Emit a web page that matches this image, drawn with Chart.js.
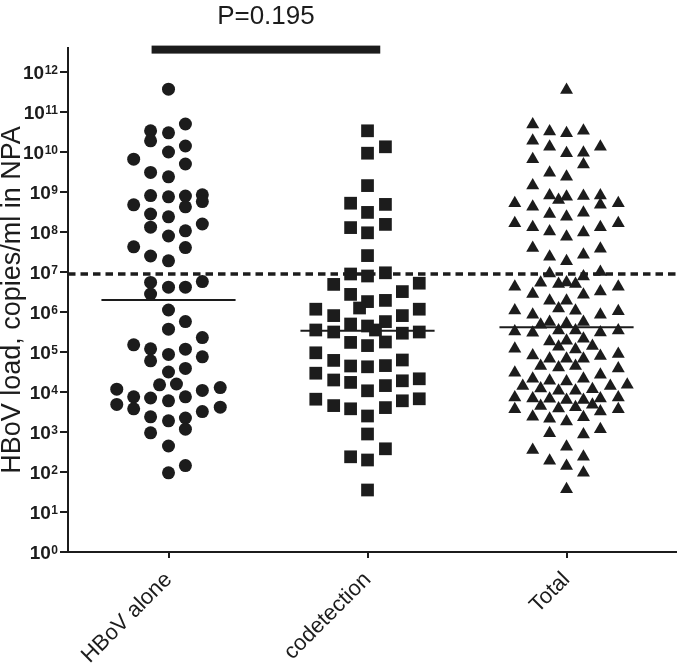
<!DOCTYPE html>
<html>
<head>
<meta charset="utf-8">
<script src="https://cdn.jsdelivr.net/npm/chart.js@4.4.1/dist/chart.umd.min.js"></script>
<style>
  html, body { margin: 0; padding: 0; background: #fff; }
</style>
</head>
<body>
<canvas id="chart" width="685" height="672"></canvas>
<script>
// x axis groups
const groups = ['HBoV alone', 'codetection', 'Total'];

// log10(copies/ml) per sample, with the sideways
// offset of each marker inside its column (in group units)
const hbovLog = [11.57, 10.70, 10.53, 10.28, 10.48, 10.15, 10.00, 9.82, 9.70, 9.49, 9.38,
  8.91, 8.88, 8.90, 8.93, 8.76, 8.63, 8.68, 8.45, 8.38, 8.12, 8.20, 8.03, 7.90, 7.63, 7.61,
  7.40, 7.28, 6.74, 6.62, 6.62, 6.76, 6.45, 6.05, 5.76, 5.57, 5.36, 5.18, 5.08, 4.78, 4.94,
  5.07, 4.88, 4.50, 4.59, 4.18, 4.20, 4.07, 3.69, 3.88, 3.58, 3.85, 3.78, 3.88, 4.04, 4.11,
  3.51, 3.62, 3.38, 3.28, 3.35, 3.07, 2.98, 2.65, 2.16, 1.98];
const hbovOff = [0, 0.085, -0.09, -0.09, 0, 0.085, 0, -0.175, 0.085, -0.09, 0,
  -0.09, 0, 0.085, 0.17, 0.17, 0.085, -0.175, -0.09, 0, -0.09, 0.17, 0.085, 0, -0.175, 0.085,
  -0.09, 0, -0.09, 0, 0.085, 0.17, -0.09, 0, 0.085, 0, 0.17, -0.175, -0.09, -0.09, 0,
  0.085, 0.17, 0, 0.085, -0.045, 0.04, -0.26, -0.26, -0.175, -0.175, -0.09, 0, 0.085, 0.17, 0.26,
  0.17, 0.26, -0.09, 0, 0.085, 0.085, -0.09, 0, 0.085, 0];

const codetLog = [10.53, 9.97, 10.13, 9.16, 8.72, 8.69, 8.49, 8.11, 8.19, 7.98, 7.41,
  6.95, 6.90, 6.98, 6.69, 6.72, 6.44, 6.51, 6.26, 6.29, 6.10, 6.07, 5.91, 5.91, 6.07,
  5.70, 5.65, 5.76, 5.55, 5.55, 5.50, 5.47, 5.50, 5.24, 5.16, 5.25, 4.98, 4.79, 4.65, 4.63,
  4.66, 4.80, 4.47, 4.30, 4.24, 4.03, 4.16, 4.28, 4.33, 3.82, 3.66, 3.58, 3.40, 3.61, 3.78,
  3.83, 2.95, 2.38, 2.30, 2.58, 1.55];
const codetOff = [0, 0, 0.09, 0, -0.085, 0.09, 0, -0.085, 0.09, 0, 0,
  -0.085, 0, 0.09, -0.17, 0.26, -0.085, 0.175, 0, 0.09, -0.04, -0.26, -0.17, 0.175, 0.26,
  -0.085, 0, 0.09, 0.04, -0.26, -0.17, 0.175, 0.26, -0.085, 0, 0.09, -0.26, -0.17, -0.085, 0,
  0.09, 0.175, -0.26, -0.17, -0.085, 0, 0.09, 0.175, 0.26, -0.26, -0.17, -0.085, 0, 0.09, 0.175,
  0.26, 0, -0.085, 0, 0.09, 0];

const totalLog = [11.55, 10.69, 10.51, 10.47, 10.53, 10.28, 10.13, 9.97, 9.98, 10.13, 9.69,
  9.82, 9.48, 9.38, 9.16, 8.91, 8.80, 8.88, 8.90, 8.91, 8.68, 8.72, 8.72, 8.63, 8.45, 8.38,
  8.48, 8.22, 8.12, 8.01, 7.88, 7.99, 8.12, 8.22, 7.60, 7.38, 7.27, 7.43, 7.58, 6.96, 6.89,
  7.00, 6.63, 6.73, 6.70, 6.74, 6.70, 6.45, 6.43, 6.51, 6.63, 6.28, 6.28, 6.04, 5.93, 6.09,
  6.03, 5.93, 6.02, 5.68, 5.75, 5.71, 5.75, 5.51, 5.48, 5.54, 5.54, 5.49, 5.54, 5.26, 5.28,
  5.33, 5.08, 5.13, 5.06, 5.15, 4.91, 4.83, 4.83, 4.83, 4.90, 4.95, 4.65, 4.61, 4.65, 4.59,
  4.48, 4.33, 4.28, 4.26, 4.33, 4.43, 4.15, 4.09, 4.03, 4.03, 4.07, 4.15, 4.18, 3.86, 3.84,
  3.83, 3.80, 3.80, 3.84, 3.86, 3.57, 3.65, 3.59, 3.62, 3.68, 3.51, 3.57, 3.38, 3.33, 3.26,
  3.37, 2.97, 2.94, 3.07, 2.55, 2.63, 2.28, 2.38, 2.15, 1.98, 1.57];
const totalOff = [0, -0.17, -0.085, 0, 0.085, -0.17, -0.085, 0, 0.085, 0.17, 0.085,
  -0.17, -0.085, 0, -0.17, -0.085, -0.04, 0, 0.085, 0.17, 0.17, 0.26, -0.26, -0.17, -0.085, 0,
  0.085, -0.26, -0.17, -0.085, 0, 0.085, 0.17, 0.26, -0.17, -0.085, 0, 0.085, 0.17, -0.085, 0.085,
  0.17, -0.26, -0.13, -0.04, 0, 0.045, -0.17, 0.085, 0.17, 0.26, -0.085, 0, -0.26, -0.17, -0.04,
  0.045, 0.17, 0.26, -0.13, -0.085, 0, 0.085, -0.26, -0.17, -0.04, 0.045, 0.17, 0.26, -0.085, 0,
  0.085, -0.26, -0.04, 0.045, 0.13, -0.17, -0.085, 0, 0.085, 0.17, 0.26, -0.13, -0.04, 0.045, 0.26,
  -0.26, -0.17, -0.085, 0, 0.085, 0.17, -0.22, -0.13, -0.04, 0.045, 0.13, 0.22, 0.305, -0.26, -0.17,
  -0.085, 0, 0.085, 0.17, 0.26, -0.26, -0.13, -0.04, 0.045, 0.13, 0.17, 0.26, -0.17, -0.085, 0,
  0.085, -0.085, 0.085, 0.17, -0.17, 0, -0.085, 0.085, 0, 0.085, 0];

const medianLog = [6.30, 5.53, 5.62];   // median line of each group
const cutoffLog = 6.95;                 // dashed line
const yTickExp = [0, 1, 2, 3, 4, 5, 6, 7, 8, 9, 10, 11, 12];
const sigPair = [-0.085, 1.064];        // HBoV alone vs codetection bar
const pLabel = 'P=0.195';

const ink = '#1c1c1c';
const family = '"Liberation Sans", Arial, Helvetica, sans-serif';
const xMin = -0.505, xMax = 2.55;
const yMax = Math.pow(10, 12.6);

function pts(logs, offs, g) {
  return logs.map((l, i) => ({x: g + offs[i], y: Math.pow(10, l)}));
}

var datasets = [
  {data: pts(hbovLog, hbovOff, 0), pointStyle: 'circle', pointRadius: 6.5},
  {data: pts(codetLog, codetOff, 1), pointStyle: 'rect', pointRadius: 9},
  {data: pts(totalLog, totalOff, 2), pointStyle: 'triangle', pointRadius: 7.5},
].map(d => Object.assign(d, {
  backgroundColor: ink, borderColor: ink, borderWidth: 0, order: 2
}));

medianLog.forEach((m, g) => {
  datasets.push({
    data: [{x: g - 0.337, y: Math.pow(10, m)}, {x: g + 0.337, y: Math.pow(10, m)}],
    showLine: true, pointRadius: 0, borderColor: ink, borderWidth: 2, order: 1
  });
});
datasets.push({
  data: [{x: xMin, y: Math.pow(10, cutoffLog)}, {x: xMax, y: Math.pow(10, cutoffLog)}],
  showLine: true, pointRadius: 0, borderColor: ink, borderWidth: 3.5,
  borderDash: [7.5, 5], order: 0
});

// superscript tick labels, significance bar and P value
const extras = {
  id: 'extras',
  afterDraw(chart) {
    const ctx = chart.ctx, xs = chart.scales.x, ys = chart.scales.y;
    ctx.save();
    ctx.fillStyle = ink;
    ctx.textAlign = 'right';
    ctx.textBaseline = 'alphabetic';
    const rx = ys.right - 10;
    yTickExp.forEach(e => {
      const py = ys.getPixelForValue(Math.pow(10, e));
      ctx.font = 'bold 12px ' + family;
      const w = ctx.measureText(String(e)).width;
      ctx.fillText(String(e), rx, py + 1.5);
      ctx.font = 'bold 19px ' + family;
      ctx.fillText('10', rx - w - 0.5, py + 7);
    });
    const x0 = xs.getPixelForValue(sigPair[0]), x1 = xs.getPixelForValue(sigPair[1]);
    const by = ys.getPixelForValue(Math.pow(10, 12.56));
    ctx.fillRect(x0, by - 4, x1 - x0, 8);
    ctx.font = '26px ' + family;
    ctx.textAlign = 'center';
    ctx.fillText(pLabel, (x0 + x1) / 2, by - 26);
    ctx.restore();
  }
};

new Chart(document.getElementById('chart'), {
  type: 'scatter',
  data: {datasets: datasets},
  plugins: [extras],
  options: {
    responsive: false,
    animation: false,
    events: [],
    layout: {padding: {top: 48, left: 0, right: 0, bottom: 0}},
    plugins: {legend: {display: false}, tooltip: {enabled: false}},
    scales: {
      x: {
        type: 'linear', min: xMin, max: xMax,
        afterBuildTicks: s => { s.ticks = groups.map((g, i) => ({value: i})); },
        afterFit: s => { s.height = 120; },
        ticks: {
          callback: v => groups[v],
          autoSkip: false, minRotation: 45, maxRotation: 45,
          color: ink, padding: 9,
          font: {family: family, size: 22}
        },
        grid: {drawOnChartArea: false, drawTicks: true, tickLength: 6, color: ink, lineWidth: 2},
        border: {display: true, color: ink, width: 2}
      },
      y: {
        type: 'logarithmic', min: 1, max: yMax,
        afterBuildTicks: s => { s.ticks = yTickExp.map(e => ({value: Math.pow(10, e)})); },
        afterFit: s => { s.width = 68; },
        ticks: {display: false},
        grid: {drawOnChartArea: false, drawTicks: true, tickLength: 8, color: ink, lineWidth: 2},
        border: {display: true, color: ink, width: 2},
        title: {
          display: true, text: 'HBoV load, copies/ml in NPA', color: ink,
          padding: 0, font: {family: family, size: 27, lineHeight: 0.9}
        }
      }
    }
  }
});
</script>
</body>
</html>
